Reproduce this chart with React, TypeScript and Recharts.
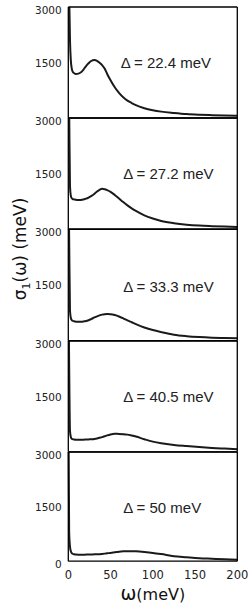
import { LineChart, Line, XAxis, YAxis, ReferenceDot, Label } from 'recharts'

// photon energy grid (meV), shared by every panel
const W = [0, 1, 2, 3, 4, 5, 7, 9, 12, 15, 18, 21, 24, 27, 31, 34, 37, 40, 43, 46, 50, 55, 60, 65, 70, 75, 80, 90, 100, 110, 125, 140, 155, 170, 185, 200]

// sigma_1(omega) (meV); the omega=0 Drude spike runs off-scale
const S1 = [5000, 3400, 2100, 1550, 1350, 1260, 1210, 1190, 1200, 1235, 1310, 1405, 1480, 1540, 1568, 1545, 1495, 1430, 1335, 1190, 1020, 830, 680, 560, 470, 405, 346, 265, 211, 172, 135, 105, 88, 77, 68, 60]
const S2 = [5000, 3300, 1150, 900, 840, 815, 805, 795, 790, 792, 805, 825, 855, 895, 960, 1020, 1065, 1090, 1080, 1055, 1010, 925, 830, 735, 645, 565, 495, 375, 290, 225, 165, 125, 100, 85, 73, 64]
const S3 = [5000, 2800, 800, 610, 555, 535, 520, 512, 510, 512, 518, 528, 550, 580, 625, 655, 680, 700, 712, 718, 712, 688, 650, 600, 545, 495, 445, 355, 285, 230, 160, 122, 98, 82, 72, 63]
const S4 = [5000, 2400, 560, 400, 355, 342, 330, 325, 324, 325, 328, 332, 336, 340, 348, 362, 380, 398, 420, 445, 470, 486, 485, 478, 465, 440, 412, 340, 275, 230, 185, 155, 128, 105, 88, 72]
const S5 = [5000, 800, 400, 275, 225, 205, 190, 182, 178, 178, 179, 181, 183, 185, 188, 190, 193, 200, 208, 217, 228, 245, 262, 272, 276, 275, 270, 252, 228, 195, 138, 110, 84, 68, 52, 38]

const SERIES = [S1, S2, S3, S4, S5]
const GAPS = ['22.4', '27.2', '33.3', '40.5', '50']

const X_MAJOR = [0, 50, 100, 150, 200]
const X_MINOR = [25, 75, 125, 175]
const Y_LABELS = [1500, 3000]
const Y_LABELS_LAST = [0, 1500, 3000]
const Y_MAJOR = [1500]
const Y_MINOR = [750, 2250]

// layout
const BOUNDS = [6.7, 117.7, 229, 340.7, 451.5, 560.7]
const TAG_AT = [[62, 1490], [65, 1500], [65, 1460], [65, 1500], [65, 1460]]
const EPS = 0.01
const NUM_FONT = '"DejaVu Sans", sans-serif'
const TXT_FONT = '"Liberation Sans", Arial, sans-serif'
const INK = '#1a1a1a'

function YTick({ x, y, payload }: any) {
  const off = payload.value === 1500 ? 0.5 : 2.7
  return (
    <text x={x} y={y + off} textAnchor="end" dominantBaseline="central" fontSize={10.5} fontFamily={NUM_FONT} fill="#222">
      {payload.value}
    </text>
  )
}

function XTitle({ viewBox }: any) {
  const { x, y, width } = viewBox
  return (
    <text x={x + width / 2} y={y + 38.5} textAnchor="middle" fontFamily={NUM_FONT} fill="#111">
      <tspan fontSize={19}>ω</tspan>
      <tspan fontSize={16}>(meV)</tspan>
    </text>
  )
}

function YTitle({ viewBox }: any) {
  return (
    <text transform={`translate(26, ${viewBox.y + 20}) rotate(-90)`} textAnchor="middle" fontSize={17} fontFamily={NUM_FONT} fill="#111">
      σ<tspan dy={4} fontSize={11}>1</tspan>
      <tspan dy={-4}>(ω) (meV)</tspan>
    </text>
  )
}

function Panel({ i }: { i: number }) {
  const top = BOUNDS[i]
  const bot = BOUNDS[i + 1]
  const last = i === 4
  const mt = i === 2 ? 45 : 12
  const mb = last ? 0 : 6
  const xh = last ? 604 - bot : EPS
  const h = mt + (bot - top) + mb + xh
  const data = W.map((w, k) => ({ w, s: SERIES[i][k] }))
  const frame = { stroke: '#000', strokeWidth: 1.3 }
  const tl = { stroke: '#000', strokeWidth: 1 }

  return (
    <div style={{ position: 'absolute', left: 0, top: top - mt }}>
      <LineChart width={249} height={h} data={data} margin={{ top: mt, right: 11.7, bottom: mb, left: 0 }}>
        <XAxis
          xAxisId="x"
          dataKey="w"
          type="number"
          domain={[0, 200]}
          ticks={X_MAJOR}
          interval={0}
          height={xh}
          tick={last ? { fontSize: 11.5, fontFamily: NUM_FONT, fill: '#222' } : false}
          tickLine={false}
          tickSize={0}
          tickMargin={10}
          axisLine={frame}
        >
          {last && <Label content={XTitle} />}
        </XAxis>
        <XAxis xAxisId="bM" type="number" domain={[0, 200]} ticks={X_MAJOR} interval={0} mirror height={EPS} tick={false} tickSize={4.5} tickLine={tl} axisLine={false} />
        <XAxis xAxisId="bm" type="number" domain={[0, 200]} ticks={X_MINOR} interval={0} mirror height={EPS} tick={false} tickSize={3} tickLine={tl} axisLine={false} />
        <XAxis xAxisId="tM" orientation="top" type="number" domain={[0, 200]} ticks={X_MAJOR} interval={0} mirror height={EPS} tick={false} tickSize={4.5} tickLine={tl} axisLine={frame} />
        <XAxis xAxisId="tm" orientation="top" type="number" domain={[0, 200]} ticks={X_MINOR} interval={0} mirror height={EPS} tick={false} tickSize={3} tickLine={tl} axisLine={false} />

        <YAxis
          yAxisId="y"
          type="number"
          domain={[0, 3000]}
          allowDataOverflow
          ticks={last ? Y_LABELS_LAST : Y_LABELS}
          interval={0}
          width={68.3}
          tick={<YTick />}
          tickLine={false}
          tickSize={0}
          tickMargin={6.6}
          axisLine={frame}
        >
          {i === 2 && <Label content={YTitle} />}
        </YAxis>
        <YAxis yAxisId="lM" type="number" domain={[0, 3000]} ticks={Y_MAJOR} interval={0} mirror width={EPS} tick={false} tickSize={4} tickLine={tl} axisLine={false} />
        <YAxis yAxisId="lm" type="number" domain={[0, 3000]} ticks={Y_MINOR} interval={0} mirror width={EPS} tick={false} tickSize={3} tickLine={tl} axisLine={false} />
        <YAxis yAxisId="rM" orientation="right" type="number" domain={[0, 3000]} ticks={Y_MAJOR} interval={0} mirror width={EPS} tick={false} tickSize={4} tickLine={tl} axisLine={frame} />
        <YAxis yAxisId="rm" orientation="right" type="number" domain={[0, 3000]} ticks={Y_MINOR} interval={0} mirror width={EPS} tick={false} tickSize={3} tickLine={tl} axisLine={false} />

        <Line xAxisId="x" yAxisId="y" dataKey="s" type="monotone" stroke={INK} strokeWidth={2} dot={false} isAnimationActive={false} />
        <ReferenceDot
          xAxisId="x"
          yAxisId="y"
          x={TAG_AT[i][0]}
          y={TAG_AT[i][1]}
          r={0}
          stroke="none"
          fill="none"
          label={{ value: `Δ = ${GAPS[i]} meV`, position: 'right', offset: 0, fontSize: 15, fontFamily: TXT_FONT, fill: '#222' }}
        />
      </LineChart>
    </div>
  )
}

export default function App() {
  return (
    <div style={{ position: 'absolute', left: 0, top: 0, width: 249, height: 604, background: '#fff', overflow: 'hidden' }}>
      {SERIES.map((_, i) => (
        <Panel key={i} i={i} />
      ))}
    </div>
  )
}
